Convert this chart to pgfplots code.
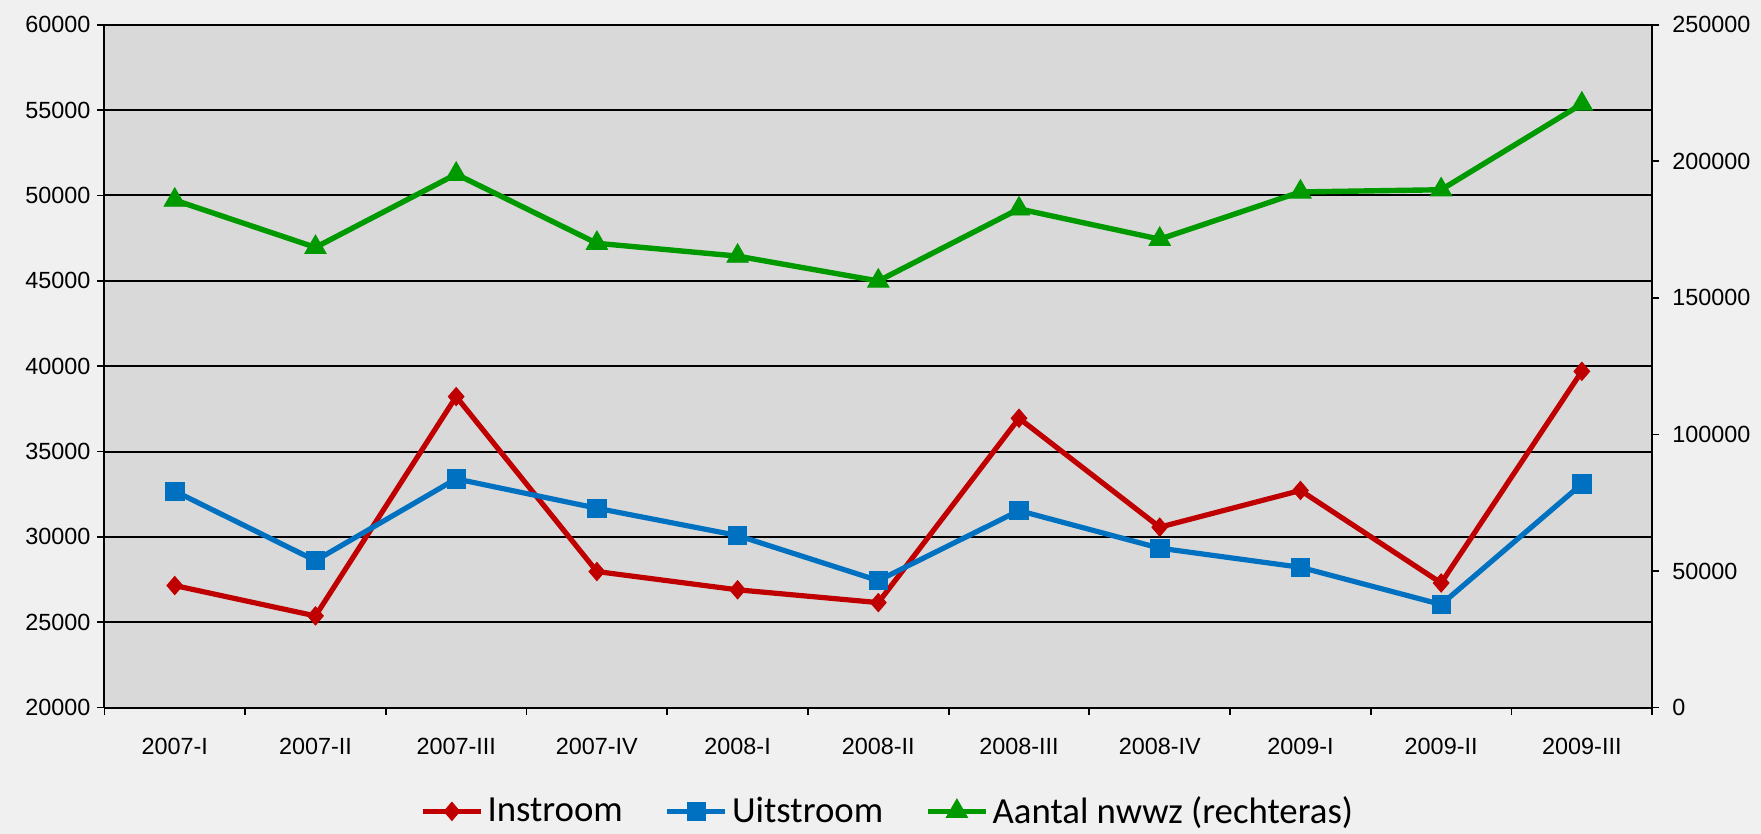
\documentclass[border=0pt]{standalone}
\usepackage{fontspec}
\setmainfont{Liberation Sans}
\newfontfamily\legfont{Carlito}
\usepackage{pgfplots}
\pgfplotsset{compat=1.18}

\definecolor{bg}{HTML}{F0F0F0}
\definecolor{plotbg}{HTML}{D9D9D9}
\definecolor{cred}{HTML}{C00000}
\definecolor{cblue}{HTML}{0070C0}
\definecolor{cgreen}{HTML}{009A00}

\pgfplotsset{
  base/.style={
    scale only axis,
    width=773.9pt, height=341.4pt,
    at={(52.2pt,63.2pt)}, anchor=south west,
    xmin=0.5, xmax=11.5,
    tick label style={font=\fontsize{11.7}{13}\selectfont},
    /pgf/number format/assume math mode=true,
    /pgf/number format/fixed,
    /pgf/number format/precision=0,
    /pgf/number format/1000 sep={},
    scaled y ticks=false,
    tick align=outside,
    major tick length=3.5pt,
    tick style={black, line width=0.9pt},
    axis line style={black, line width=1pt},
  },
  instr/.style={cred, line width=2.6pt, mark=diamond*, mark size=4.6pt,
    mark options={solid, line width=0.4pt, fill=cred, xscale=1.15}},
  uitstr/.style={cblue, line width=2.6pt, mark=square*, mark size=4.6pt,
    mark options={solid, line width=0.4pt, fill=cblue}},
  nwwz/.style={cgreen, line width=2.7pt, mark=triangle*, mark size=6.2pt,
    mark options={solid, line width=0.4pt, fill=cgreen}},
}

\begin{document}
\begin{tikzpicture}
\fill[bg] (0,0) rectangle (880.5pt,417pt);

% left axis: Instroom, Uitstroom
\begin{axis}[base,
  axis background/.style={fill=plotbg},
  ymin=20000, ymax=60000,
  ytick={20000,25000,...,60000},
  axis x line*=bottom, axis y line*=left,
  ymajorgrids, major grid style={black, line width=1pt},
  xtick={1,...,11},
  xticklabels={2007-I,2007-II,2007-III,2007-IV,2008-I,2008-II,2008-III,2008-IV,2009-I,2009-II,2009-III},
  xticklabel style={yshift=-8pt},
  major x tick style={draw=none},
  minor xtick={0.5,1.5,...,11.5},
  minor tick length=3.5pt,
  minor x tick style={black, line width=0.9pt},
]
\addplot[instr] coordinates {
  (1,27150) (2,25370) (3,38220) (4,27970) (5,26900) (6,26150)
  (7,36950) (8,30570) (9,32720) (10,27300) (11,39700)};
\addplot[uitstr] coordinates {
  (1,32680) (2,28610) (3,33400) (4,31680) (5,30080) (6,27440)
  (7,31540) (8,29340) (9,28220) (10,26040) (11,33100)};
\end{axis}

% right axis: Aantal nwwz
\begin{axis}[base,
  ymin=0, ymax=250000,
  ytick={0,50000,...,250000},
  axis x line=none, axis y line*=right,
  yticklabel style={xshift=3pt},
  legend columns=3,
  legend style={draw=none, fill=none, at={(0.5067,-0.152)}, anchor=center,
    font=\legfont\fontsize{18.4}{20}\selectfont,
    /tikz/every even column/.append style={column sep=19pt}},
  legend image code/.code={
    \draw[mark repeat=2, mark phase=2] plot coordinates {(0pt,0pt) (14.5pt,0pt) (29pt,0pt)};},
]
\addlegendimage{instr}
\addlegendentry{Instroom}
\addlegendimage{uitstr}
\addlegendentry{Uitstroom}
\addplot[nwwz] coordinates {
  (1,185800) (2,168500) (3,195300) (4,170000) (5,165300) (6,156200)
  (7,182600) (8,171500) (9,188800) (10,189600) (11,221000)};
\addlegendentry{Aantal nwwz (rechteras)}
\end{axis}

\pgfresetboundingbox
\useasboundingbox (0,0) rectangle (880.5pt,417pt);
\end{tikzpicture}
\end{document}
